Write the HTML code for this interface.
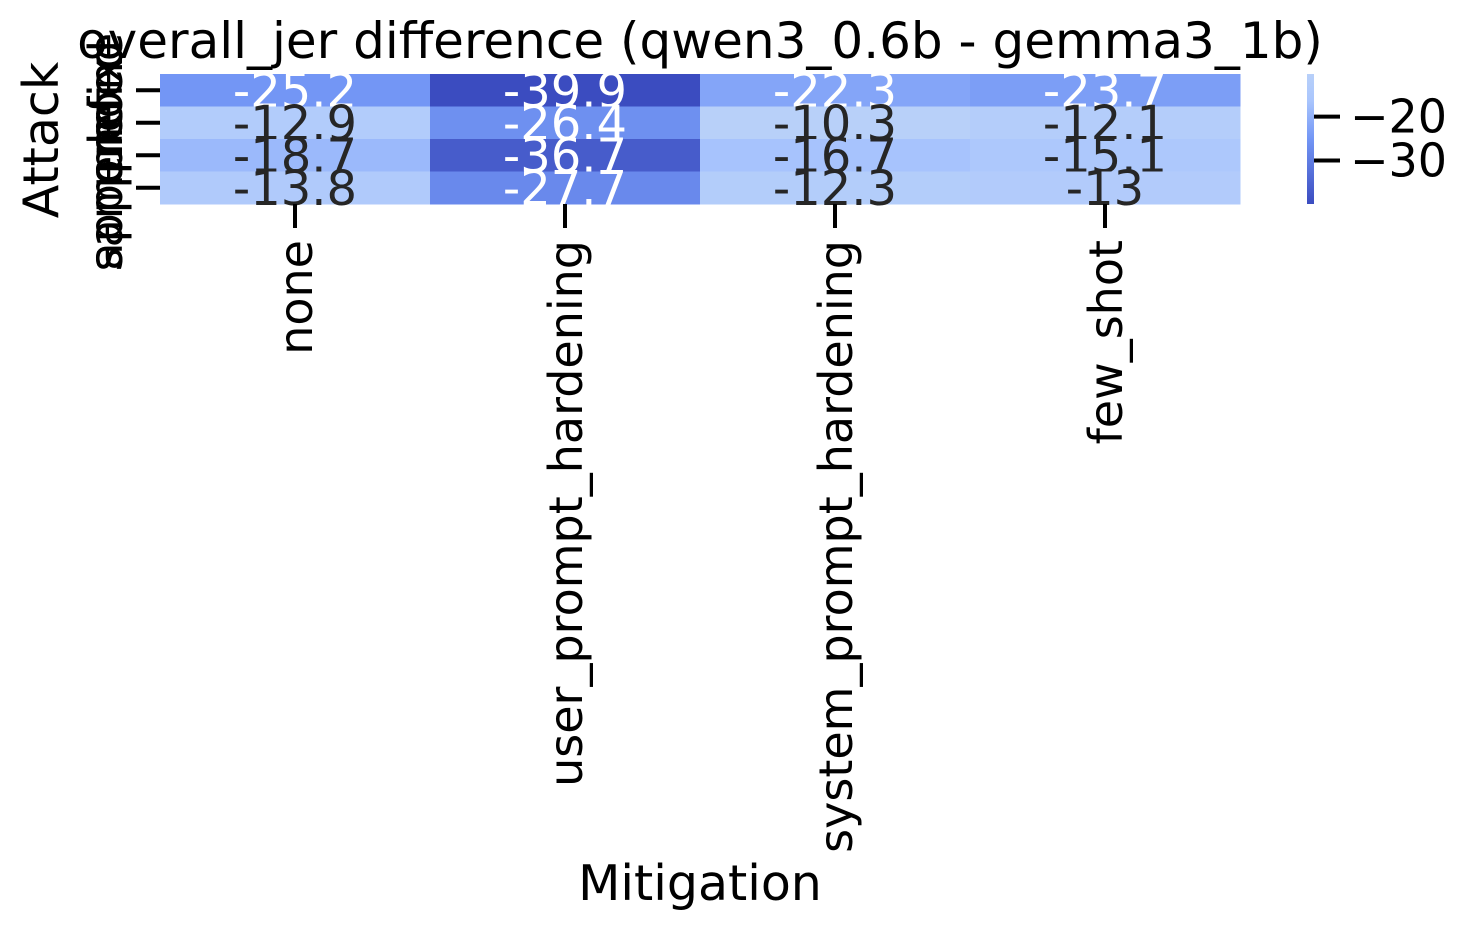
<!DOCTYPE html>
<html><head><meta charset="utf-8"><style>body{margin:0;background:#fff}svg{display:block;font-family:"DejaVu Sans","Liberation Sans",sans-serif}</style></head>
<body>
<svg id="c" width="1465" height="930"></svg>
<script>
const cols = ["none","user_prompt_hardening","system_prompt_hardening","few_shot"];
const rows = ["none","prefix","appended","sample"];
const vals = [[-25.2,-39.9,-22.3,-23.7],[-12.9,-26.4,-10.3,-12.1],[-18.7,-36.7,-16.7,-15.1],[-13.8,-27.7,-12.3,-13.0]];
const cbTicks = [-20,-30];
const svg = document.getElementById('c');
const NS = 'http://www.w3.org/2000/svg';
const X0=160,X1=1240,Y0=74,Y1=204;
const vmin=-39.9,vmax=-10.3;
const cw=(X1-X0)/cols.length, ch=(Y1-Y0)/rows.length;
const stops=[[0,[59,76,192]],[0.5,[115,150,245]],[0.8,[170,198,253]],[1,[184,208,249]]];
function color(v){let t=(v-vmin)/(vmax-vmin);t=Math.max(0,Math.min(1,t));
for(let i=1;i<stops.length;i++){if(t<=stops[i][0]){const a=stops[i-1],b=stops[i];const f=(t-a[0])/(b[0]-a[0]);
return 'rgb('+a[1].map((c,k)=>Math.round(c+(b[1][k]-c)*f)).join(',')+')';}}return 'rgb(184,208,249)';}
function el(tag,attrs,text){const e=document.createElementNS(NS,tag);for(const k in attrs)e.setAttribute(k,attrs[k]);if(text!==undefined)e.textContent=text;svg.appendChild(e);return e;}
function cbY(v){return Y1-(v-vmin)/(vmax-vmin)*(Y1-Y0);}
rows.forEach((r,i)=>{cols.forEach((c,j)=>{const v=vals[i][j];
const rc=el('rect',{x:X0+j*cw,y:Y0+i*ch,width:cw+0.5,height:ch+0.5,fill:color(v)});


const t=(v-vmin)/(vmax-vmin);
const tx=el('text',{x:X0+j*cw+cw/2,y:Y0+i*ch+ch/2+17,'text-anchor':'middle','font-size':48,fill:t<0.65?'#fff':'#262626'},String(Math.round(v*10)/10));

});});
rows.forEach((r,i)=>{const y=Y0+i*ch+ch/2;
const tk=el('line',{x1:X0-24,x2:X0,y1:y,y2:y,stroke:'#000','stroke-width':4});


const lb=el('text',{x:0,y:0,transform:'translate(122,'+y+') rotate(-90)','text-anchor':'middle','font-size':46,fill:'#000'},r);

});
cols.forEach((c,j)=>{const x=X0+j*cw+cw/2;
const tk=el('line',{x1:x,x2:x,y1:Y1,y2:Y1+24,stroke:'#000','stroke-width':4});


const lb=el('text',{x:0,y:0,transform:'translate('+(x+17)+','+(Y1+36)+') rotate(-90)','text-anchor':'end','font-size':46,fill:'#000'},c);

});
const defs=el('defs',{});
const g=document.createElementNS(NS,'linearGradient');g.setAttribute('id','cb');g.setAttribute('x1','0');g.setAttribute('y1','1');g.setAttribute('x2','0');g.setAttribute('y2','0');
stops.forEach(s=>{const st=document.createElementNS(NS,'stop');st.setAttribute('offset',s[0]);st.setAttribute('stop-color','rgb('+s[1].join(',')+')');g.appendChild(st);});
defs.appendChild(g);
const cb=el('rect',{x:1307,y:Y0,width:7,height:Y1-Y0,fill:'url(#cb)'});


cbTicks.forEach(v=>{const y=cbY(v);
const tk=el('line',{x1:1314,x2:1340,y1:y,y2:y,stroke:'#000','stroke-width':4});


const lb=el('text',{x:1350,y:y+16,'font-size':46,fill:'#000'},'\u2212'+Math.abs(v));

});
const ti=el('text',{x:700,y:58,'text-anchor':'middle','font-size':50,fill:'#000'},'overall_jer difference (qwen3_0.6b - gemma3_1b)');


const xl=el('text',{x:700,y:900,'text-anchor':'middle','font-size':49,fill:'#000'},'Mitigation');


const yl=el('text',{x:0,y:0,transform:'translate(58,140) rotate(-90)','text-anchor':'middle','font-size':49,fill:'#000'},'Attack');


</script>
</body></html>
